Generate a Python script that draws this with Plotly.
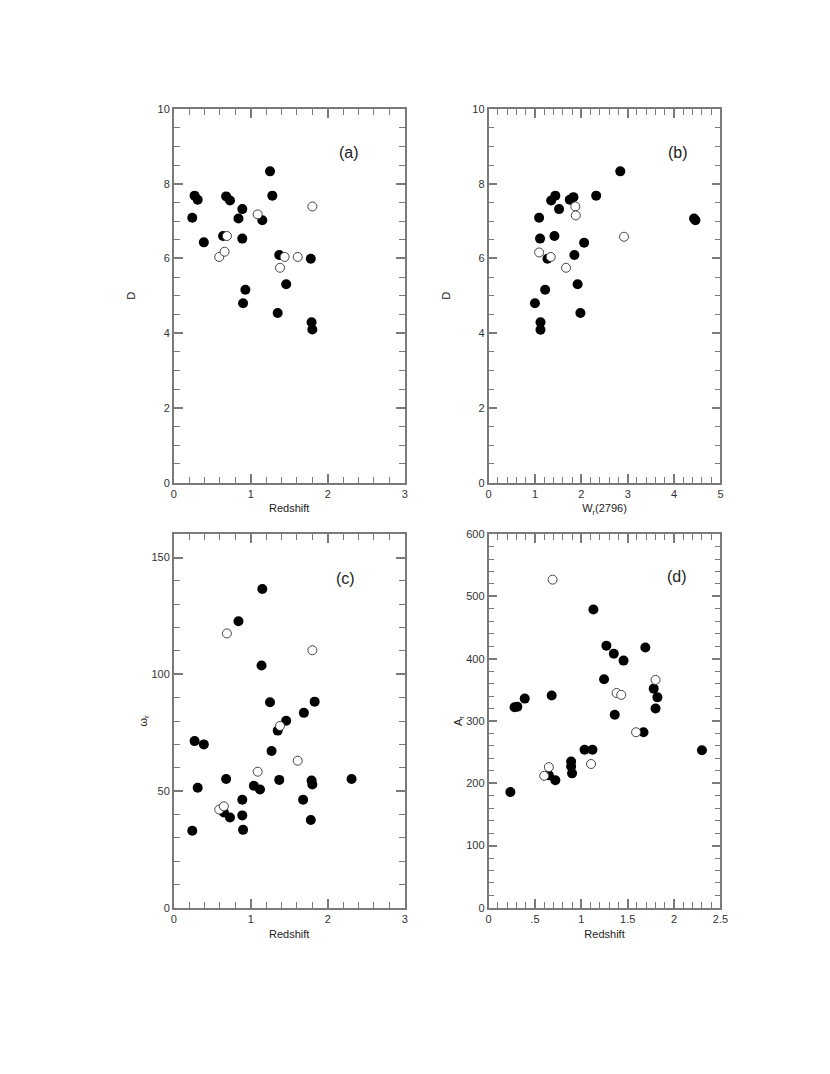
import plotly.graph_objects as go

# panel (a): D vs redshift
a_fill_z = [0.27, 0.31, 0.24, 0.39, 0.68, 0.73, 0.64, 0.89, 0.84, 0.89, 0.93,
            0.90, 1.25, 1.28, 1.15, 1.37, 1.35, 1.46, 1.78, 1.79, 1.80]
a_fill_d = [7.68, 7.57, 7.09, 6.43, 7.66, 7.55, 6.60, 7.32, 7.07, 6.53, 5.16,
            4.80, 8.33, 7.68, 7.02, 6.09, 4.54, 5.31, 5.99, 4.29, 4.10]
a_open_z = [0.59, 0.66, 0.69, 1.09, 1.38, 1.44, 1.61, 1.80]
a_open_d = [6.04, 6.18, 6.60, 7.18, 5.75, 6.04, 6.04, 7.39]

# panel (b): D vs W_r(2796)
b_fill_w = [1.09, 1.11, 1.00, 1.22, 1.12, 1.12, 1.27, 1.35, 1.44, 1.52, 1.42,
            1.75, 1.83, 1.85, 1.92, 1.98, 2.06, 2.32, 2.84, 4.43, 4.46]
b_fill_d = [7.09, 6.53, 4.80, 5.16, 4.29, 4.09, 5.99, 7.55, 7.68, 7.32, 6.60,
            7.57, 7.64, 6.09, 5.31, 4.54, 6.42, 7.68, 8.33, 7.07, 7.02]
b_open_w = [1.09, 1.34, 1.67, 1.87, 1.88, 2.92]
b_open_d = [6.16, 6.04, 5.75, 7.39, 7.15, 6.58]

# panel (c): omega_r vs redshift
c_fill_z = [0.24, 0.27, 0.31, 0.39, 0.68, 0.65, 0.73, 0.84, 0.89, 0.89, 0.90,
            1.15, 1.14, 1.04, 1.12, 1.25, 1.27, 1.35, 1.46, 1.37, 1.69, 1.68,
            1.83, 1.79, 1.80, 1.78, 2.31]
c_fill_w = [33.0, 71.4, 51.4, 70.0, 55.2, 40.8, 38.7, 122.7, 46.3, 39.6, 33.4,
            136.5, 103.8, 52.3, 50.7, 88.0, 67.2, 75.9, 80.1, 54.8, 83.5, 46.3,
            88.3, 54.5, 52.8, 37.6, 55.2]
c_open_z = [0.59, 0.65, 0.69, 1.09, 1.38, 1.61, 1.80]
c_open_w = [42.1, 43.5, 117.5, 58.3, 77.9, 63.0, 110.3]

# panel (d): A_r vs redshift
d_fill_z = [0.235, 0.28, 0.31, 0.39, 0.68, 0.65, 0.72, 0.89, 0.89, 0.90, 1.035,
            1.12, 1.13, 1.245, 1.27, 1.35, 1.455, 1.36, 1.67, 1.69, 1.78, 1.82,
            1.80, 2.30]
d_fill_a = [186, 322, 323, 336, 341, 213, 205, 235, 227, 216, 254,
            254, 479, 367, 421, 408, 397, 310, 282, 418, 352, 338,
            320, 253]
d_open_z = [0.69, 0.60, 0.65, 1.105, 1.38, 1.43, 1.59, 1.80]
d_open_a = [527, 212, 226, 231, 345, 342, 282, 366]

d_tickvals = [0, 0.5, 1, 1.5, 2, 2.5]
d_ticktext = ["0", ".5", "1", "1.5", "2", "2.5"]

FONT = "Liberation Sans, Arial, sans-serif"
AXIS_GREY = "#7a7a7a"

fig = go.Figure()

panels = [
    ("x", "y", a_fill_z, a_fill_d, a_open_z, a_open_d),
    ("x2", "y2", b_fill_w, b_fill_d, b_open_w, b_open_d),
    ("x3", "y3", c_fill_z, c_fill_w, c_open_z, c_open_w),
    ("x4", "y4", d_fill_z, d_fill_a, d_open_z, d_open_a),
]
for xa, ya, fx, fy, ox, oy in panels:
    fig.add_trace(go.Scatter(
        x=fx, y=fy, mode="markers", xaxis=xa, yaxis=ya, showlegend=False,
        marker=dict(size=10, color="black", line=dict(width=0)),
    ))
    fig.add_trace(go.Scatter(
        x=ox, y=oy, mode="markers", xaxis=xa, yaxis=ya, showlegend=False,
        marker=dict(size=9, color="white", line=dict(width=1, color="#444444")),
    ))


def axis(domain, rng, dtick, minor, title=None, anchor=None, standoff=6, **kw):
    d = dict(
        domain=domain, range=rng, dtick=dtick, tick0=0,
        showline=True, linecolor=AXIS_GREY, linewidth=1.5, mirror="allticks",
        ticks="inside", ticklen=9, tickwidth=1.5, tickcolor=AXIS_GREY,
        minor=dict(dtick=minor, ticks="inside", ticklen=6, tickwidth=1.2,
                   tickcolor=AXIS_GREY, showgrid=False),
        showgrid=False, zeroline=False,
        tickfont=dict(family=FONT, size=11, color="#333333"),
        fixedrange=True,
    )
    if title:
        d["title"] = dict(text=title, font=dict(family=FONT, size=11, color="#222222"),
                          standoff=standoff)
    if anchor:
        d["anchor"] = anchor
    d.update(kw)
    return d


# page body adds an 8px margin, domains are shifted to compensate
xl = [0.1988, 0.4807]
xr = [0.5831, 0.8663]
yt = [0.5587, 0.9106]
yb = [0.1583, 0.5102]

fig.update_layout(
    width=830, height=1074,
    margin=dict(l=0, r=0, t=0, b=0),
    paper_bgcolor="white", plot_bgcolor="white",
    xaxis=axis(xl, [0, 3], 1, 0.2, "Redshift", anchor="y"),
    yaxis=axis(yt, [0, 10], 2, 0.5, "D", anchor="x", standoff=20),
    xaxis2=axis(xr, [0, 5], 1, 0.2, "W<sub>r</sub>(2796)", anchor="y2"),
    yaxis2=axis(yt, [0, 10], 2, 0.5, "D", anchor="x2", standoff=20),
    xaxis3=axis(xl, [0, 3], 1, 0.2, "Redshift", anchor="y3"),
    yaxis3=axis(yb, [0, 160], 50, 10, "ω<sub>r</sub>", anchor="x3", standoff=2),
    xaxis4=axis(xr, [0, 2.5], 0.5, 0.1, "Redshift", anchor="y4",
                tickmode="array", tickvals=d_tickvals, ticktext=d_ticktext),
    yaxis4=axis(yb, [0, 600], 100, 20, "A<sub>r</sub>", anchor="x4", standoff=1),
)

labels = [("x", "y", 2.27, 8.83, "(a)"), ("x2", "y2", 4.09, 8.83, "(b)"),
          ("x3", "y3", 2.23, 141, "(c)"), ("x4", "y4", 2.03, 532, "(d)")]
for xr_, yr_, lx, ly, txt in labels:
    fig.add_annotation(x=lx, y=ly, xref=xr_, yref=yr_, text=txt, showarrow=False,
                       font=dict(family=FONT, size=16, color="#222222"))

fig.write_html("out.html")
